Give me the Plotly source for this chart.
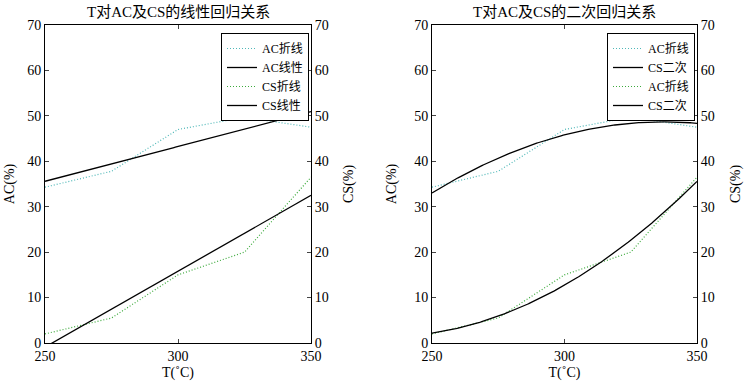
import numpy as np
import plotly.graph_objects as go

T = [250, 275, 300, 325, 350]
AC = [34.3, 37.8, 47.0, 49.7, 47.5]
CS = [2.0, 5.5, 15.0, 20.0, 36.5]
y_ticks = [0, 10, 20, 30, 40, 50, 60, 70]
x_ticks = [250, 300, 350]
titles = ["T对AC及CS的线性回归关系", "T对AC及CS的二次回归关系"]
legend_left = ["AC折线", "AC线性", "CS折线", "CS线性"]
legend_right = ["AC折线", "CS二次", "AC折线", "CS二次"]

Tf = np.linspace(250, 350, 201)
ac_lin = np.polyval(np.polyfit(T, AC, 1), Tf)
cs_lin = np.polyval(np.polyfit(T, CS, 1), Tf)
ac_q = np.polyval(np.polyfit(T, AC, 2), Tf)
cs_q = np.polyval(np.polyfit(T, CS, 2), Tf)

FONT = "Liberation Serif, Times New Roman, Noto Sans CJK SC"
AC_DOT = "#4fb8b8"
CS_DOT = "#3caa3c"
DOT = "1px,2px"

fig = go.Figure()
# left panel
fig.add_trace(go.Scatter(x=T, y=AC, name=legend_left[0], mode="lines",
                         line=dict(color=AC_DOT, dash=DOT, width=1.2), xaxis="x", yaxis="y", legend="legend"))
fig.add_trace(go.Scatter(x=Tf, y=ac_lin, name=legend_left[1], mode="lines",
                         line=dict(color="black", width=1.3), xaxis="x", yaxis="y", legend="legend"))
fig.add_trace(go.Scatter(x=T, y=CS, name=legend_left[2], mode="lines",
                         line=dict(color=CS_DOT, dash=DOT, width=1.2), xaxis="x", yaxis="y2", legend="legend"))
fig.add_trace(go.Scatter(x=Tf, y=cs_lin, name=legend_left[3], mode="lines",
                         line=dict(color="black", width=1.3), xaxis="x", yaxis="y2", legend="legend"))
# right panel
fig.add_trace(go.Scatter(x=T, y=AC, name=legend_right[0], mode="lines",
                         line=dict(color=AC_DOT, dash=DOT, width=1.2), xaxis="x2", yaxis="y3", legend="legend2"))
fig.add_trace(go.Scatter(x=Tf, y=ac_q, name=legend_right[1], mode="lines",
                         line=dict(color="black", width=1.3), xaxis="x2", yaxis="y3", legend="legend2"))
fig.add_trace(go.Scatter(x=T, y=CS, name=legend_right[2], mode="lines",
                         line=dict(color=CS_DOT, dash=DOT, width=1.2), xaxis="x2", yaxis="y4", legend="legend2"))
fig.add_trace(go.Scatter(x=Tf, y=cs_q, name=legend_right[3], mode="lines",
                         line=dict(color="black", width=1.3), xaxis="x2", yaxis="y4", legend="legend2"))

W, H = 744, 387
ML, MR, MT, MB = 45, 47, 25, 44
PW, PH = W - ML - MR, H - MT - MB
tickfont = dict(family=FONT, size=14, color="black")


def xax(domain, anchor):
    return dict(domain=domain, anchor=anchor, range=[250, 350], tickvals=x_ticks,
                ticks="inside", ticklen=4, showline=True, mirror="ticks", linecolor="black",
                linewidth=1, showgrid=False, zeroline=False, tickfont=tickfont, automargin=False,
                title=dict(text="T(˚C)", font=tickfont, standoff=4))


def yax(anchor, side, title, standoff, overlay=None):
    d = dict(domain=[0, 1], anchor=anchor, range=[0, 70], tickvals=y_ticks, side=side,
             ticks="inside", ticklen=4, showline=True, linecolor="black", linewidth=1,
             showgrid=False, zeroline=False, tickfont=tickfont, automargin=False,
             title=dict(text=title, font=tickfont, standoff=standoff))
    if overlay:
        d["overlaying"] = overlay
    return d


xd1 = [0, (311 - ML) / PW]
xd2 = [(432 - ML) / PW, 1]

legstyle = dict(bordercolor="black", borderwidth=1, bgcolor="white",
                font=dict(family=FONT, size=12, color="black"),
                xanchor="right", yanchor="top", itemwidth=30, tracegroupgap=0)


def px_x(p):
    return (p - ML) / PW


def px_y(p):
    return (H - MB - p) / PH


fig.update_layout(
    width=W, height=H, margin=dict(l=ML, r=MR, t=MT, b=MB, autoexpand=False),
    plot_bgcolor="white", paper_bgcolor="white",
    xaxis=xax(xd1, "y"), xaxis2=xax(xd2, "y3"),
    yaxis=yax("x", "left", "AC(%)", 9), yaxis2=yax("x", "right", "CS(%)", 15, "y"),
    yaxis3=yax("x2", "left", "AC(%)", 14), yaxis4=yax("x2", "right", "CS(%)", 20, "y3"),
    legend=dict(x=px_x(309), y=px_y(33), **legstyle),
    legend2=dict(x=px_x(695), y=px_y(33), **legstyle),
    annotations=[
        dict(text=titles[0], x=(xd1[0] + xd1[1]) / 2, y=px_y(12), xref="paper", yref="paper",
             xanchor="center", showarrow=False, font=dict(family=FONT, size=15, color="black"),
             yanchor="middle"),
        dict(text=titles[1], x=(xd2[0] + xd2[1]) / 2, y=px_y(12), xref="paper", yref="paper",
             xanchor="center", showarrow=False, font=dict(family=FONT, size=15, color="black"),
             yanchor="middle"),
    ],
)
fig.write_html("out.html", config={"displayModeBar": False},
               post_script="document.body.style.margin='0';document.body.style.overflow='hidden';")
